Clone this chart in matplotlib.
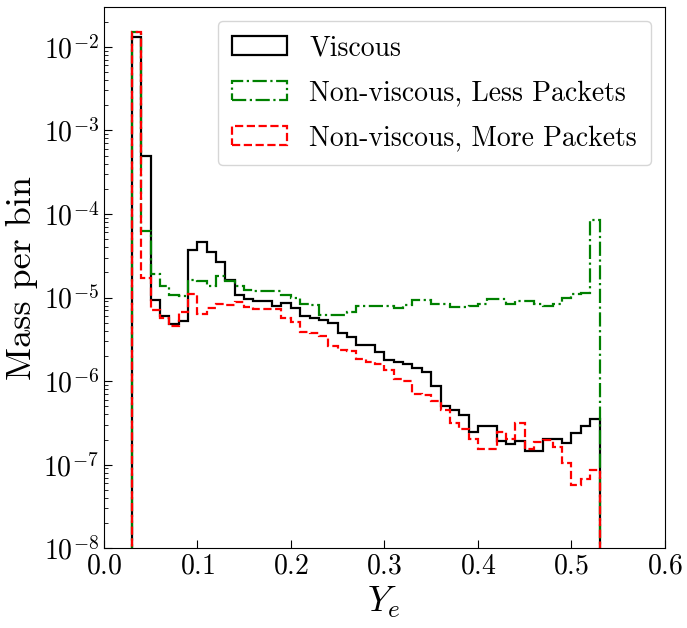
import matplotlib
matplotlib.use("Agg")
import matplotlib.pyplot as plt
import numpy as np

plt.rcParams['font.family'] = 'serif'
plt.rcParams['font.serif'] = ['cmr10']
plt.rcParams['mathtext.fontset'] = 'cm'
plt.rcParams['axes.formatter.use_mathtext'] = True

# Ye bins, width 0.01 from 0.03 to 0.53
bin_edges = np.round(np.arange(0.03, 0.5301, 0.01), 2)
bin_mid = 0.5 * (bin_edges[:-1] + bin_edges[1:])

viscous = [1.32e-2, 4.9e-4, 9.3e-6, 6.0e-6, 4.8e-6, 5.3e-6, 3.68e-5, 4.6e-5, 3.55e-5, 2.64e-5,
           1.61e-5, 1.07e-5, 9.7e-6, 9.0e-6, 9.0e-6, 8.0e-6, 8.5e-6, 7.4e-6, 6.0e-6, 5.7e-6,
           5.4e-6, 4.9e-6, 3.8e-6, 3.4e-6, 2.73e-6, 2.67e-6, 2.2e-6, 1.8e-6, 1.67e-6, 1.61e-6,
           1.42e-6, 1.29e-6, 8.8e-7, 5.06e-7, 4.5e-7, 3.95e-7, 2.47e-7, 2.94e-7, 2.94e-7, 1.92e-7,
           1.76e-7, 1.92e-7, 1.45e-7, 1.45e-7, 2.03e-7, 2.03e-7, 1.84e-7, 2.42e-7, 2.94e-7, 3.53e-7]

less_packets = [1.5e-2, 6.3e-5, 1.9e-5, 1.36e-5, 1.07e-5, 1.03e-5, 1.61e-5, 1.56e-5, 1.36e-5, 1.83e-5,
                1.56e-5, 1.36e-5, 1.22e-5, 1.19e-5, 1.21e-5, 1.21e-5, 1.08e-5, 9.9e-6, 8.3e-6, 8.1e-6,
                6.26e-6, 6.1e-6, 6.1e-6, 6.7e-6, 7.9e-6, 7.9e-6, 8.0e-6, 8.0e-6, 7.5e-6, 8.2e-6,
                9.3e-6, 9.3e-6, 8.45e-6, 8.3e-6, 7.7e-6, 7.8e-6, 7.9e-6, 8.45e-6, 9.6e-6, 9.6e-6,
                8.45e-6, 9.0e-6, 9.0e-6, 8.45e-6, 8.0e-6, 8.45e-6, 9.8e-6, 1.09e-5, 1.12e-5, 8.4e-5]

more_packets = [1.5e-2, 1.72e-5, 7.0e-6, 5.7e-6, 4.5e-6, 6.8e-6, 1.11e-5, 6.3e-6, 7.5e-6, 8.45e-6,
                8.1e-6, 8.8e-6, 7.6e-6, 7.36e-6, 7.2e-6, 7.2e-6, 5.74e-6, 5.14e-6, 3.83e-6, 3.77e-6,
                3.43e-6, 2.65e-6, 2.33e-6, 2.26e-6, 1.84e-6, 1.71e-6, 1.61e-6, 1.37e-6, 1.06e-6, 1.01e-6,
                7.0e-7, 6.8e-7, 5.7e-7, 4.5e-7, 3.13e-7, 2.7e-7, 2.05e-7, 1.56e-7, 1.55e-7, 2.49e-7,
                2.03e-7, 3.19e-7, 1.54e-7, 1.86e-7, 1.95e-7, 1.64e-7, 1.06e-7, 5.7e-8, 6.7e-8, 8.6e-8]

fig = plt.figure(figsize=(6.87, 6.28), dpi=100)
ax = fig.add_axes([0.151, 0.127, 0.817, 0.862])

ax.hist(bin_mid, bins=bin_edges, weights=viscous, histtype='step', color='black',
        linestyle='-', linewidth=1.6, label='Viscous')
ax.hist(bin_mid, bins=bin_edges, weights=less_packets, histtype='step', color='green',
        linestyle='-.', linewidth=1.6, label='Non-viscous, Less Packets')
ax.hist(bin_mid, bins=bin_edges, weights=more_packets, histtype='step', color='red',
        linestyle='--', linewidth=1.6, label='Non-viscous, More Packets')

ax.set_yscale('log')
ax.set_xlim(0.0, 0.6)
ax.set_ylim(1e-8, 3e-2)
ax.set_xticks([0.0, 0.1, 0.2, 0.3, 0.4, 0.5, 0.6])
ax.tick_params(which='both', direction='in', labelsize=20)
ax.tick_params(which='major', length=6)
ax.tick_params(which='minor', length=3)
ax.set_xlabel('$Y_e$', fontsize=26, labelpad=4)
ax.set_ylabel('Mass per bin', fontsize=26)
ax.legend(loc='upper right', fontsize=20, labelspacing=0.68, borderpad=0.5)

fig.savefig('out.png', dpi=100)
